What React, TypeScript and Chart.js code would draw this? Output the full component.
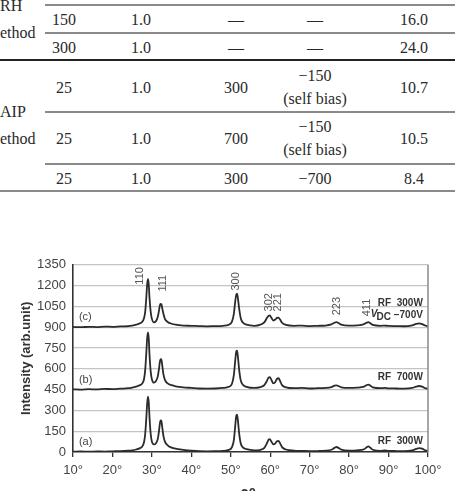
import React, { useEffect, useRef } from "react";
import { Chart, registerables } from "chart.js";

Chart.register(...registerables);

// ---------- table data ----------
const tableGroups = ["RH\nethod", "AIP\nethod"];
const tableCol1 = ["150", "300", "25", "25", "25"];
const tableCol2 = ["1.0", "1.0", "1.0", "1.0", "1.0"];
const tableCol3 = ["—", "—", "300", "700", "300"];
const tableCol4 = ["—", "—", "−150\n(self bias)", "−150\n(self bias)", "−700"];
const tableCol5 = ["16.0", "24.0", "10.7", "10.5", "8.4"];

// ---------- chart data ----------
const twoTheta = [
  10, 12, 14, 16, 18, 20, 22, 24, 25, 26, 27, 27.5, 28, 28.3, 28.6, 28.8, 29, 29.2, 29.4, 29.7,
  30, 30.5, 31, 31.5, 31.8, 32, 32.2, 32.4, 32.6, 32.9, 33.3, 34, 35, 36, 38, 40, 42, 44, 46, 48,
  49.5, 50.3, 50.8, 51.1, 51.4, 51.6, 51.8, 52.1, 52.5, 53, 54, 56, 57.5, 58.5, 59.2, 59.6, 59.9,
  60.3, 60.8, 61.3, 61.7, 62.1, 62.5, 63, 64, 66, 68, 70, 72, 74, 75.5, 76.3, 76.8, 77.3, 78, 80,
  82, 83.8, 84.5, 84.9, 85.4, 86, 88, 89, 90, 92, 94, 96, 97, 97.8, 98.5, 99.3, 100,
];

const seriesA = [
  3, 4, 2, 4, 3, 5, 6, 9, 12, 18, 28, 38, 70, 130, 250, 350, 400, 360, 250, 130,
  75, 55, 62, 95, 150, 200, 228, 225, 185, 120, 75, 48, 32, 24, 16, 10, 6, 5, 6, 8,
  15, 35, 90, 180, 262, 270, 230, 140, 65, 35, 20, 12, 16, 30, 65, 90, 93,
  75, 55, 62, 78, 80, 62, 35, 18, 10, 8, 6, 7, 9, 16, 30, 36, 30, 17, 10,
  12, 20, 35, 40, 30, 16, 8, 12, 8, 7, 6, 12, 22, 28, 24, 12, 8,
];

const seriesB = [
  452, 450, 453, 451, 455, 454, 457, 460, 465, 472, 482, 492, 525, 590, 720, 820, 862, 820, 700, 580,
  525, 500, 510, 545, 600, 645, 670, 668, 630, 565, 520, 495, 482, 474, 466, 462, 458, 457, 458, 462,
  470, 492, 560, 650, 725, 731, 690, 600, 520, 487, 470, 462, 468, 482, 515, 538, 540,
  520, 495, 505, 528, 532, 512, 482, 466, 460, 462, 458, 460, 462, 468, 478, 481, 476, 466, 462,
  464, 472, 483, 486, 478, 466, 460, 462, 459, 458, 457, 462, 472, 476, 472, 460, 455,
];

const seriesC = [
  902, 900, 903, 901, 904, 903, 906, 908, 912, 918, 928, 938, 965, 1010, 1120, 1210, 1247, 1210, 1110, 1010,
  960, 935, 942, 975, 1020, 1055, 1068, 1065, 1040, 1000, 960, 938, 925, 918, 912, 910, 908, 906, 908, 910,
  918, 940, 1000, 1080, 1135, 1142, 1110, 1040, 968, 935, 918, 910, 918, 935, 968, 983, 985,
  968, 948, 955, 967, 969, 955, 932, 916, 910, 912, 908, 910, 912, 920, 932, 936, 930, 918, 911,
  913, 922, 933, 936, 928, 916, 910, 912, 909, 908, 907, 914, 924, 928, 922, 912, 905,
];

const xTickValues = [10, 20, 30, 40, 50, 60, 70, 80, 90, 100];
const yMax = 1350;
const yStep = 150;

// peak (hkl) labels
const peakLabels = ["110", "111", "300", "302", "221", "223", "411"];
const peakLabelX = [26.9, 32.7, 51.4, 59.7, 62.0, 76.8, 84.5];
const peakLabelY = [1207, 1157, 1164, 1014, 1014, 986, 979];

// curve tags
const curveTags = ["(a)", "(b)", "(c)"];
const curveTagX = [11.5, 11.5, 11.5];
const curveTagY = [71, 521, 971];

// condition labels
const condLine1 = ["RF  300W", "RF  700W", "RF  300W"];
const condLine1Y = [79, 536, 1071];
const condX = 98.7;
const vdcLabel = { sym: "V", sub: "DC", value: " −700V", y: 986 };

const xTitle = "2θ";
const yTitle = "Intensity (arb.unit)";

const SANS = "'Liberation Sans', Arial, sans-serif";
const NARROW = "'Liberation Sans Narrow', 'Liberation Sans', Arial, sans-serif";

const annotationPlugin = {
  id: "annot",
  afterDatasetsDraw(chart: any) {
    const { ctx, chartArea, scales } = chart;
    const xs = scales.x;
    const ys = scales.y;
    ctx.save();
    // right frame
    ctx.strokeStyle = "#8a8a8a";
    ctx.lineWidth = 1.5;
    ctx.beginPath();
    ctx.moveTo(chartArea.right, chartArea.top);
    ctx.lineTo(chartArea.right, chartArea.bottom);
    ctx.stroke();

    // peak labels rotated
    ctx.fillStyle = "#555";
    ctx.font = `11px ${SANS}`;
    ctx.textAlign = "left";
    ctx.textBaseline = "middle";
    peakLabels.forEach((t, i) => {
      const px = xs.getPixelForValue(peakLabelX[i]);
      const py = ys.getPixelForValue(peakLabelY[i]);
      ctx.save();
      ctx.translate(px, py);
      ctx.rotate(-Math.PI / 2);
      ctx.fillText(t, 0, 0);
      ctx.restore();
    });

    // curve tags
    ctx.fillStyle = "#444";
    ctx.font = `11px ${SANS}`;
    ctx.textAlign = "left";
    curveTags.forEach((t, i) => {
      ctx.fillText(t, xs.getPixelForValue(curveTagX[i]), ys.getPixelForValue(curveTagY[i]));
    });

    // condition labels
    ctx.fillStyle = "#333";
    ctx.font = `bold 10px ${NARROW}`;
    ctx.textAlign = "right";
    const rx = xs.getPixelForValue(condX);
    condLine1.forEach((t, i) => {
      ctx.fillText(t, rx, ys.getPixelForValue(condLine1Y[i]));
    });
    const vy = ys.getPixelForValue(vdcLabel.y);
    ctx.textAlign = "left";
    ctx.font = `bold 10px ${NARROW}`;
    const wVal = ctx.measureText(vdcLabel.value).width;
    const wSub = ctx.measureText(vdcLabel.sub).width;
    ctx.font = `italic bold 10px ${NARROW}`;
    const wSym = ctx.measureText(vdcLabel.sym).width;
    let cx = rx - wVal - wSub - wSym + 1;
    ctx.fillText(vdcLabel.sym, cx, vy - 1);
    cx += wSym - 1;
    ctx.font = `bold 10px ${NARROW}`;
    ctx.fillText(vdcLabel.sub, cx, vy + 2);
    cx += wSub;
    ctx.fillText(vdcLabel.value, cx, vy);

    // x title (cut by the page edge)
    ctx.fillStyle = "#333";
    ctx.font = `bold 14px ${SANS}`;
    ctx.textAlign = "center";
    ctx.textBaseline = "top";
    ctx.fillText(xTitle, (chartArea.left + chartArea.right) / 2 - 2, chart.height - 3);
    ctx.restore();
  },
};

function XrdChart() {
  const ref = useRef<HTMLCanvasElement>(null);
  useEffect(() => {
    if (!ref.current) return;
    const mk = (arr: number[]) => twoTheta.map((x, i) => ({ x, y: arr[i] }));
    const ds = (arr: number[]) => ({
      data: mk(arr),
      borderColor: "#2b2b2b",
      borderWidth: 1.8,
      pointRadius: 0,
      fill: false,
      cubicInterpolationMode: "monotone" as const,
    });
    const chart = new Chart(ref.current, {
      type: "line",
      data: { datasets: [ds(seriesA), ds(seriesB), ds(seriesC)] },
      options: {
        animation: false,
        responsive: false,
        events: [],
        layout: { padding: { top: 13, right: 27, left: 0, bottom: 0 } },
        plugins: { legend: { display: false }, tooltip: { enabled: false } },
        scales: {
          x: {
            type: "linear",
            min: xTickValues[0],
            max: xTickValues[xTickValues.length - 1],
            afterBuildTicks: (s: any) => {
              s.ticks = xTickValues.map((v) => ({ value: v }));
            },
            afterFit: (s: any) => {
              s.height = 39;
            },
            ticks: {
              callback: (v: any) => `${v}°`,
              color: "#444",
              font: { family: SANS, size: 13 },
              padding: 6,
              maxRotation: 0,
              autoSkip: false,
            },
            grid: { drawOnChartArea: false, drawTicks: true, tickLength: 5, color: "#333", lineWidth: 1.3 },
            border: { color: "#333", width: 1.6 },
          },
          y: {
            min: 0,
            max: yMax,
            afterFit: (s: any) => {
              s.width = 73;
            },
            ticks: {
              stepSize: yStep,
              color: "#444",
              font: { family: SANS, size: 13 },
              padding: 7,
              callback: (v: any) => String(v),
            },
            grid: { color: "#c4c4c4", lineWidth: 1.3, drawTicks: false, tickLength: 0 },
            border: { color: "#333", width: 1.6 },
            title: {
              display: true,
              text: yTitle,
              color: "#333",
              font: { family: SANS, size: 13, weight: "bold" },
              padding: { top: 19, bottom: 0 },
            },
          },
        },
      },
      plugins: [annotationPlugin],
    });
    return () => chart.destroy();
  }, []);
  return (
    <canvas
      ref={ref}
      width={455}
      height={241}
      style={{ position: "absolute", left: 0, top: 250, width: 455, height: 241 }}
    />
  );
}

const rowCenters = [19, 47, 87, 138, 178];
const colCenters = [64, 141, 236, 315, 414];
const groupCenters = [19, 125];
const partialLines = [5, 33, 112, 164];
const fullLines = [60, 191];

function Table() {
  const cols = [tableCol1, tableCol2, tableCol3, tableCol4, tableCol5];
  const cellStyle: React.CSSProperties = {
    position: "absolute",
    transform: "translate(-50%, -50%)",
    whiteSpace: "pre",
    textAlign: "center",
    lineHeight: "23px",
  };
  return (
    <div
      style={{
        position: "absolute",
        left: 0,
        top: 0,
        width: 455,
        height: 200,
        fontFamily: "'Liberation Serif', 'Times New Roman', serif",
        fontSize: 16,
        color: "#2a2a2a",
      }}
    >
      {partialLines.map((y, i) => (
        <div
          key={"p" + i}
          style={{ position: "absolute", left: 45, right: 0, top: y - 1, height: 1.5, background: "#8a8a8a" }}
        />
      ))}
      {fullLines.map((y, i) => (
        <div
          key={"f" + i}
          style={{
            position: "absolute",
            left: 0,
            right: 0,
            top: y - 1,
            height: i === 0 ? 2 : 1.8,
            background: i === 0 ? "#222" : "#8a8a8a",
          }}
        />
      ))}
      {tableGroups.map((g, i) => (
        <div
          key={"g" + i}
          style={{
            position: "absolute",
            left: 0,
            top: groupCenters[i],
            transform: "translateY(-50%)",
            whiteSpace: "pre",
            lineHeight: "27px",
          }}
        >
          {g}
        </div>
      ))}
      {cols.map((col, c) =>
        col.map((v, r) => (
          <div key={c + "-" + r} style={{ ...cellStyle, left: colCenters[c], top: rowCenters[r] }}>
            {v}
          </div>
        ))
      )}
    </div>
  );
}

export default function App() {
  return (
    <div
      style={{
        position: "fixed",
        left: 0,
        top: 0,
        width: 455,
        height: 491,
        overflow: "hidden",
        background: "#fff",
      }}
    >
      <Table />
      <XrdChart />
    </div>
  );
}
